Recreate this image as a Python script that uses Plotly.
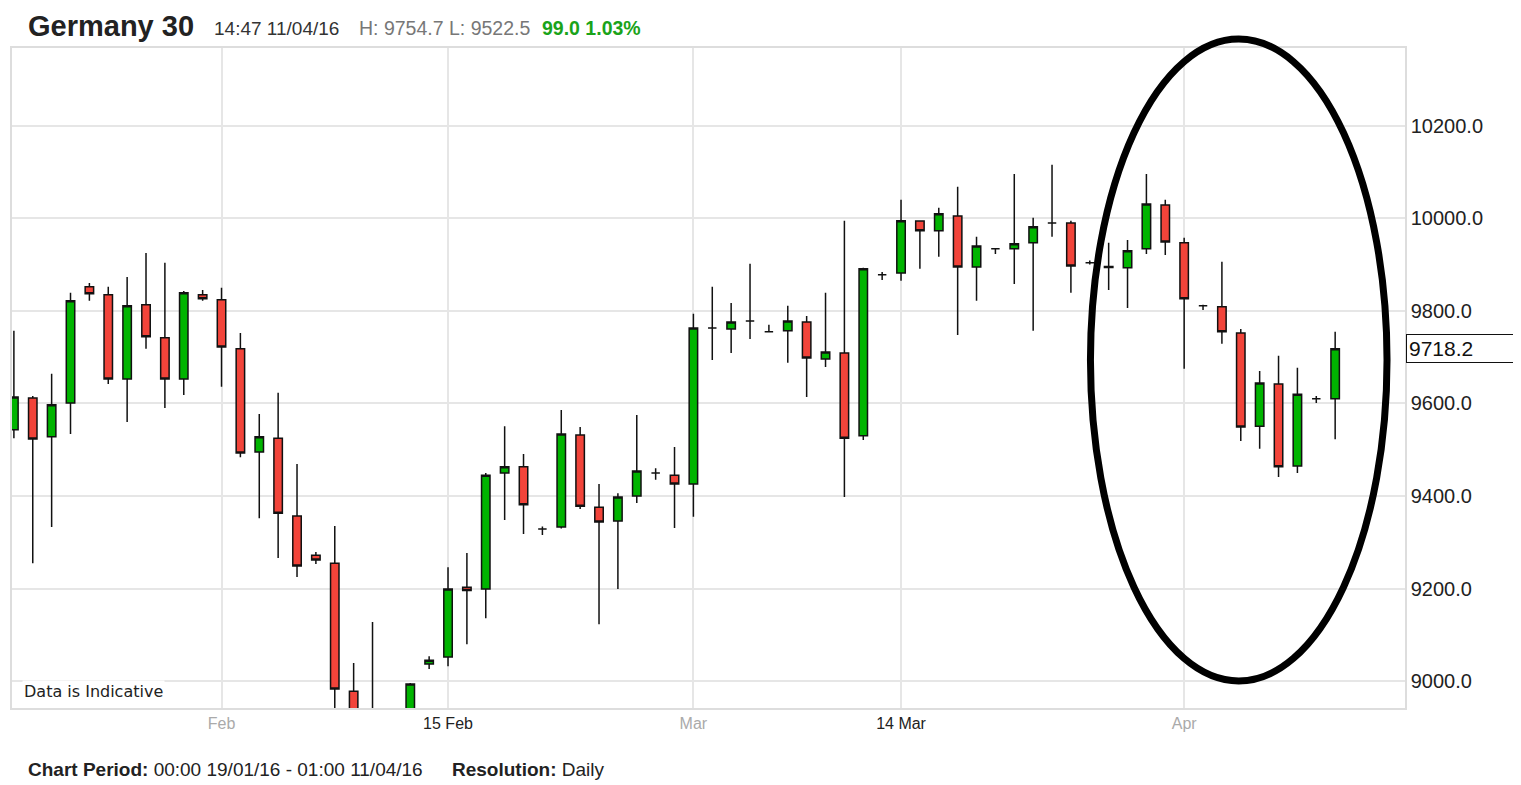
import plotly.graph_objects as go

# ── Germany 30 daily candles, 19/01/16 - 11/04/16 ─────────────────────

dates = [
    '2016-01-19', '2016-01-20', '2016-01-21', '2016-01-22', '2016-01-24', '2016-01-25',
    '2016-01-26', '2016-01-27', '2016-01-28', '2016-01-29', '2016-01-31',
    '2016-02-01', '2016-02-02', '2016-02-03', '2016-02-04', '2016-02-05', '2016-02-07',
    '2016-02-08', '2016-02-09', '2016-02-10', '2016-02-11', '2016-02-12', '2016-02-14',
    '2016-02-15', '2016-02-16', '2016-02-17', '2016-02-18', '2016-02-19', '2016-02-21',
    '2016-02-22', '2016-02-23', '2016-02-24', '2016-02-25', '2016-02-26', '2016-02-28',
    '2016-02-29',
    '2016-03-01', '2016-03-02', '2016-03-03', '2016-03-04', '2016-03-06', '2016-03-07',
    '2016-03-08', '2016-03-09', '2016-03-10', '2016-03-11', '2016-03-13', '2016-03-14',
    '2016-03-15', '2016-03-16', '2016-03-17', '2016-03-18', '2016-03-20', '2016-03-21',
    '2016-03-22', '2016-03-23', '2016-03-24', '2016-03-25', '2016-03-28', '2016-03-29',
    '2016-03-30', '2016-03-31',
    '2016-04-01', '2016-04-03', '2016-04-04', '2016-04-05', '2016-04-06', '2016-04-07',
    '2016-04-08', '2016-04-10', '2016-04-11',
]

opens = [
    9543, 9612, 9528, 9601, 9852, 9835, 9653, 9813, 9742, 9653, 9835,
    9824, 9718, 9495, 9525, 9357, 9272, 9255, 8978, 8880, 8880, 8800, 9037,
    9052, 9203, 9199, 9450, 9463, 9329, 9333, 9532, 9376, 9346, 9400, 9450, 9445,
    9426, 9763, 9761, 9778, 9755, 9757, 9776, 9696, 9709, 9530, 9878, 9882,
    9994, 9973, 10005, 9895, 9934, 9934, 9947, 9990, 9990, 9904, 9896, 9893,
    9934, 10029,
    9947, 9811, 9809, 9752, 9551, 9642, 9465, 9610, 9610,
]
highs = [
    9757, 9616, 9664, 9839, 9860, 9852, 9873, 9925, 9904, 9843, 9845,
    9850, 9752, 9577, 9623, 9469, 9279, 9335, 9039, 9128, 8900, 8996, 9054,
    9246, 9277, 9450, 9551, 9491, 9334, 9586, 9549, 9426, 9406, 9575, 9460, 9506,
    9794, 9852, 9817, 9902, 9770, 9811, 9789, 9839, 9995, 9893, 9884, 10040,
    9996, 10023, 10068, 9960, 9936, 10096, 10001, 10116, 9995, 9909, 9947, 9953,
    10096, 10040,
    9958, 9813, 9906, 9761, 9670, 9703, 9677, 9616, 9754.7,
]
lows = [
    9525, 9255, 9333, 9534, 9822, 9642, 9560, 9718, 9590, 9618, 9822,
    9636, 9484, 9352, 9266, 9225, 9253, 8900, 8820, 8790, 8700, 8780, 9026,
    9032, 9080, 9136, 9348, 9318, 9316, 9330, 9372, 9123, 9199, 9385, 9435, 9331,
    9355, 9694, 9709, 9739, 9754, 9688, 9614, 9679, 9398, 9521, 9867, 9865,
    9891, 9917, 9748, 9822, 9923, 9858, 9757, 9960, 9839, 9900, 9845, 9806,
    9923, 9921,
    9675, 9802, 9729, 9519, 9502, 9441, 9450, 9601, 9522.5,
]
closes = [
    9614, 9523, 9597, 9822, 9837, 9653, 9811, 9744, 9653, 9839, 9826,
    9722, 9493, 9528, 9363, 9249, 9262, 8983, 8880, 8920, 8760, 8994, 9045,
    9199, 9196, 9445, 9463, 9381, 9329, 9534, 9378, 9344, 9398, 9454, 9450, 9426,
    9763, 9763, 9776, 9778, 9755, 9778, 9698, 9711, 9525, 9891, 9878, 9995,
    9973, 10010, 9895, 9940, 9934, 9945, 9982, 9990, 9897, 9904, 9894, 9930,
    10031, 9949,
    9826, 9811, 9755, 9549, 9644, 9463, 9620, 9610, 9718.2,
]

tick_dates = ['2016-02-01', '2016-02-15', '2016-03-01', '2016-03-14', '2016-04-01']
tick_labels = ['Feb', '15 Feb', 'Mar', '14 Mar', 'Apr']
tick_major = [False, True, False, True, False]

price_ticks = [9000, 9200, 9400, 9600, 9800, 10000, 10200]
last_price = 9718.2

# ── layout helpers (target pixel -> paper) ───────────────────────────
# the page body adds an 8px margin, so targets are shifted back by OFF
W, H = 1521, 785
OFF = 8
L, T = 10 - OFF, 48 - OFF
R, B = W - (1405 - OFF), H - (708 - OFF)
PW, PH = W - L - R, H - T - B


def px(x):
    return (x - OFF - L) / PW


def py(y):
    return (H - B - (y - OFF)) / PH


FONT = 'Liberation Sans, Arial, sans-serif'

fig = go.Figure(go.Candlestick(
    x=dates, open=opens, high=highs, low=lows, close=closes,
    increasing=dict(fillcolor='#00b400', line=dict(color='#111111', width=1.5)),
    decreasing=dict(fillcolor='#f2443a', line=dict(color='#111111', width=1.5)),
    whiskerwidth=0,
    hoverinfo='x+y',
))

tick_text = [
    f'<span style="color:{"#222222" if m else "#aaaaaa"}">{t}</span>'
    for t, m in zip(tick_labels, tick_major)
]

fig.update_layout(
    width=W, height=H,
    margin=dict(l=L, r=R, t=T, b=B),
    paper_bgcolor='white', plot_bgcolor='white',
    showlegend=False,
    boxgap=0.36,
    font=dict(family=FONT, color='#222222'),
    xaxis=dict(
        type='category', range=[-0.1, 73.7],
        rangeslider=dict(visible=False),
        tickvals=tick_dates, ticktext=tick_text,
        tickfont=dict(size=16),
        showgrid=True, gridcolor='#e6e6e6', gridwidth=1.5,
        showline=True, linecolor='#dddddd', linewidth=1.5, mirror=True,
        ticks='', zeroline=False, fixedrange=True,
    ),
    yaxis=dict(
        side='right', range=[8942, 10368],
        tickvals=price_ticks, ticktext=[f'{v:.1f}' for v in price_ticks],
        tickfont=dict(size=20, color='#222222'),
        showgrid=True, gridcolor='#e6e6e6', gridwidth=1.5,
        showline=True, linecolor='#dddddd', linewidth=1.5, mirror=True,
        ticks='', zeroline=False, ticklabelstandoff=0,
    ),
)

# header
header = [
    ('<b>Germany 30</b>', 24, 26, 29, '#222222'),
    ('14:47 11/04/16', 210, 28, 19, '#333333'),
    ('H: 9754.7 L: 9522.5', 355, 28, 19.5, '#777777'),
    ('<b>99.0 1.03%</b>', 539, 28, 19.5, '#1aa31a'),
]
for text, x, y, size, color in header:
    fig.add_annotation(text=text, xref='paper', yref='paper', x=px(x), y=py(y),
                       xanchor='left', yanchor='middle', showarrow=False,
                       font=dict(size=size, color=color, family=FONT))

# footer
footer = [
    ('<b>Chart Period:</b> 00:00 19/01/16 - 01:00 11/04/16', 24),
    ('<b>Resolution:</b> Daily', 449),
]
for text, x in footer:
    fig.add_annotation(text=text, xref='paper', yref='paper', x=px(x), y=py(769),
                       xanchor='left', yanchor='middle', showarrow=False,
                       font=dict(size=19, color='#222222', family=FONT))

fig.add_annotation(text='Data is Indicative', xref='paper', yref='paper',
                   x=px(20), y=py(691), xanchor='left', yanchor='middle',
                   showarrow=False, bgcolor='white',
                   font=dict(size=16, color='#222222', family='DejaVu Sans, Verdana, sans-serif'))

# last price box
fig.add_annotation(text=f'{last_price:.1f}', xref='paper', yref='y',
                   x=1, y=last_price, xanchor='left', yanchor='middle', xshift=1,
                   showarrow=False, bgcolor='white', bordercolor='#111111',
                   borderwidth=1, borderpad=2, width=104, align='left',
                   font=dict(size=21, color='#111111', family=FONT))

# highlight ellipse
fig.add_shape(type='circle', xref='paper', yref='paper',
              x0=px(1090), x1=px(1387), y0=py(681), y1=py(39),
              line=dict(color='black', width=7))

fig.write_html('out.html')
